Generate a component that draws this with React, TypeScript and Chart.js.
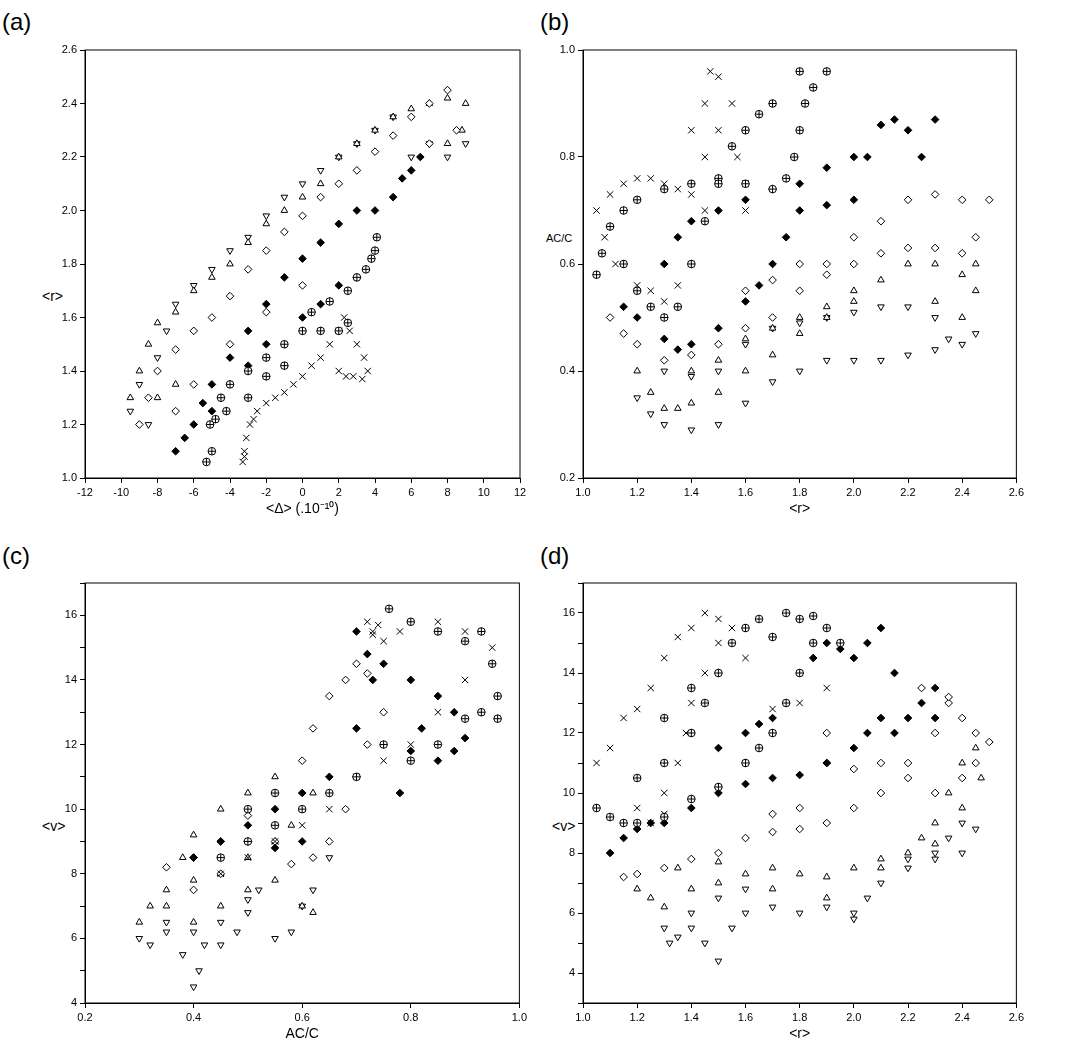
import React, { useEffect, useRef } from "react";
import { Chart, registerables } from "chart.js";
Chart.register(...registerables);

type P = [number, number][];

// ---- Panel (a): <Δ> vs <r>
const aCross: P = [[-3.3,1.06],[-3.2,1.1],[-3.1,1.15],[-2.9,1.2],[-2.5,1.25],[-2,1.28],[-1.5,1.3],[-1,1.32],[-0.5,1.35],[0,1.38],[0.5,1.42],[1,1.45],[1.5,1.5],[2,1.55],[2.3,1.6],[2.6,1.55],[3,1.5],[3.4,1.45],[3.6,1.4],[3.3,1.37],[2.8,1.38],[2.4,1.38],[2,1.4],[-3.2,1.08],[-2.7,1.22]];
const aOplus: P = [[-5.3,1.06],[-5,1.1],[-5.1,1.2],[-4.5,1.3],[-4,1.35],[-3,1.4],[-2,1.45],[-1,1.5],[0,1.55],[1,1.55],[2,1.55],[2.5,1.58],[-4.8,1.22],[-3,1.3],[-2,1.38],[0.5,1.62],[1.5,1.66],[2.5,1.7],[3,1.75],[3.5,1.78],[4,1.85],[4.1,1.9],[3.8,1.82],[-4.2,1.25],[-1,1.42]];
const aFill: P = [[-7,1.1],[-6.5,1.15],[-6,1.2],[-5.5,1.28],[-5,1.35],[-4,1.45],[-3,1.55],[-2,1.65],[-1,1.75],[0,1.82],[1,1.88],[2,1.95],[3,2.0],[4,2.0],[5,2.05],[5.5,2.12],[6,2.15],[6.5,2.2],[-5,1.25],[-4.5,1.3],[-3,1.42],[-2,1.5],[0,1.6],[1,1.65],[2,1.72],[3,1.75]];
const aDiam: P = [[-9,1.2],[-8.5,1.3],[-8,1.4],[-7,1.48],[-6,1.55],[-5,1.6],[-4,1.68],[-3,1.78],[-2,1.85],[-1,1.92],[0,1.98],[1,2.05],[2,2.1],[3,2.15],[4,2.22],[5,2.28],[6,2.35],[7,2.4],[8,2.45],[-7,1.25],[-6,1.35],[-4,1.5],[-2,1.62],[0,1.72],[8.5,2.3],[7,2.25]];
const aTri: P = [[-9.5,1.3],[-9,1.4],[-8.5,1.5],[-8,1.58],[-7,1.62],[-6,1.7],[-5,1.75],[-4,1.8],[-3,1.88],[-2,1.95],[-1,2.0],[0,2.05],[1,2.1],[2,2.2],[3,2.25],[4,2.3],[5,2.35],[6,2.38],[7,2.4],[8,2.42],[9,2.4],[8.8,2.3],[8,2.25],[-8,1.3],[-7,1.35]];
const aTriD: P = [[-9.5,1.25],[-9,1.35],[-8,1.45],[-7.5,1.55],[-7,1.65],[-6,1.72],[-5,1.78],[-4,1.85],[-3,1.9],[-2,1.98],[-1,2.05],[0,2.1],[1,2.15],[2,2.2],[3,2.25],[4,2.3],[5,2.35],[7,2.25],[8,2.2],[9,2.25],[-8.5,1.2],[6,2.2]];

// ---- Panel (b): <r> vs AC/C
const bCross: P = [[1.05,0.7],[1.1,0.73],[1.15,0.75],[1.2,0.76],[1.25,0.76],[1.3,0.75],[1.35,0.74],[1.4,0.73],[1.45,0.8],[1.45,0.9],[1.47,0.96],[1.5,0.95],[1.55,0.9],[1.57,0.8],[1.6,0.75],[1.08,0.65],[1.12,0.6],[1.2,0.56],[1.25,0.55],[1.3,0.53],[1.35,0.56],[1.4,0.6],[1.45,0.7],[1.4,0.85],[1.5,0.85],[1.6,0.7]];
const bOplus: P = [[1.05,0.58],[1.07,0.62],[1.1,0.67],[1.15,0.7],[1.2,0.72],[1.3,0.74],[1.4,0.75],[1.5,0.76],[1.6,0.75],[1.7,0.74],[1.75,0.76],[1.78,0.8],[1.8,0.85],[1.82,0.9],[1.85,0.93],[1.9,0.96],[1.8,0.96],[1.7,0.9],[1.65,0.88],[1.6,0.85],[1.55,0.82],[1.5,0.75],[1.45,0.68],[1.4,0.6],[1.35,0.52],[1.3,0.5],[1.25,0.52],[1.2,0.55],[1.15,0.6]];
const bFill: P = [[1.15,0.52],[1.2,0.5],[1.3,0.46],[1.35,0.44],[1.4,0.45],[1.5,0.48],[1.6,0.53],[1.65,0.56],[1.7,0.6],[1.75,0.65],[1.8,0.7],[1.9,0.71],[2.0,0.72],[2.05,0.8],[2.1,0.86],[2.15,0.87],[2.2,0.85],[2.25,0.8],[2.3,0.87],[1.3,0.6],[1.35,0.65],[1.4,0.68],[1.5,0.7],[1.6,0.72],[1.7,0.74],[1.8,0.75],[1.9,0.78],[2.0,0.8]];
const bDiam: P = [[1.1,0.5],[1.15,0.47],[1.2,0.45],[1.3,0.42],[1.4,0.43],[1.5,0.45],[1.6,0.48],[1.7,0.5],[1.8,0.55],[1.9,0.58],[2.0,0.6],[2.1,0.62],[2.2,0.63],[2.3,0.63],[2.4,0.62],[2.45,0.65],[2.5,0.72],[2.4,0.72],[2.3,0.73],[2.2,0.72],[2.1,0.68],[2.0,0.65],[1.9,0.6],[1.8,0.6],[1.7,0.57],[1.6,0.55]];
const bTri: P = [[1.2,0.4],[1.25,0.36],[1.3,0.33],[1.35,0.33],[1.4,0.34],[1.5,0.36],[1.6,0.4],[1.7,0.43],[1.8,0.47],[1.9,0.5],[2.0,0.53],[2.1,0.57],[2.2,0.6],[2.3,0.6],[2.4,0.58],[2.45,0.55],[2.4,0.5],[1.4,0.4],[1.5,0.42],[1.6,0.46],[1.7,0.48],[1.8,0.5],[1.9,0.52],[2.0,0.55],[2.3,0.53],[2.45,0.6]];
const bTriD: P = [[1.2,0.35],[1.25,0.32],[1.3,0.3],[1.4,0.29],[1.5,0.3],[1.6,0.34],[1.7,0.38],[1.8,0.4],[1.9,0.42],[2.0,0.42],[2.1,0.42],[2.2,0.43],[2.3,0.44],[2.4,0.45],[2.45,0.47],[1.4,0.39],[1.5,0.4],[1.6,0.45],[1.7,0.48],[1.8,0.49],[1.9,0.5],[2.0,0.51],[2.1,0.52],[2.2,0.52],[2.3,0.5],[2.35,0.46],[1.3,0.4]];

// ---- Panel (c): AC/C vs <v>
const cCross: P = [[0.72,15.8],[0.73,15.5],[0.75,15.2],[0.78,15.5],[0.85,15.8],[0.9,15.5],[0.95,15],[0.9,14],[0.85,13],[0.8,12],[0.75,11.5],[0.7,11],[0.65,10],[0.6,9.5],[0.55,9],[0.5,8.5],[0.45,8],[0.74,15.7],[0.73,15.4]];
const cOplus: P = [[0.76,16.2],[0.8,15.8],[0.85,15.5],[0.9,15.2],[0.95,14.5],[0.96,13.5],[0.93,13],[0.9,12.8],[0.85,12],[0.8,11.5],[0.75,12],[0.7,11],[0.65,10.5],[0.6,10],[0.55,9.5],[0.5,9],[0.45,8.5],[0.5,10],[0.55,10.5],[0.96,12.8],[0.93,15.5]];
const cFill: P = [[0.7,15.5],[0.72,14.8],[0.75,14.5],[0.8,14],[0.85,13.5],[0.88,13],[0.9,12.2],[0.85,11.5],[0.8,11.8],[0.78,10.5],[0.7,12.5],[0.65,11],[0.6,10.5],[0.55,10],[0.5,9.5],[0.45,9],[0.4,8.5],[0.55,8.8],[0.6,9],[0.82,12.5],[0.73,14],[0.88,11.8]];
const cDiam: P = [[0.35,8.2],[0.4,8.5],[0.45,9],[0.5,9.8],[0.55,10.5],[0.6,11.5],[0.62,12.5],[0.65,13.5],[0.68,14],[0.7,14.5],[0.72,14.2],[0.75,13],[0.72,12],[0.7,11],[0.68,10],[0.65,9],[0.62,8.5],[0.58,8.3],[0.55,9],[0.5,9],[0.45,8],[0.4,7.5]];
const cTri: P = [[0.3,6.5],[0.32,7],[0.35,7.5],[0.4,7.8],[0.45,8],[0.5,8.5],[0.55,9],[0.58,9.5],[0.6,10],[0.62,10.5],[0.55,11],[0.5,10.5],[0.45,10],[0.4,9.2],[0.38,8.5],[0.35,7],[0.4,6.5],[0.45,7],[0.5,7.5],[0.55,7.8],[0.6,7],[0.62,6.8]];
const cTriD: P = [[0.3,6],[0.32,5.8],[0.35,6.2],[0.38,5.5],[0.4,4.5],[0.41,5],[0.42,5.8],[0.45,6.5],[0.48,6.2],[0.5,6.8],[0.52,7.5],[0.55,6],[0.58,6.2],[0.6,7],[0.62,7.5],[0.65,8.5],[0.4,6.2],[0.35,6.5],[0.45,5.8],[0.5,7.2]];

// ---- Panel (d): <r> vs <v>
const dCross: P = [[1.05,11],[1.1,11.5],[1.15,12.5],[1.2,12.8],[1.25,13.5],[1.3,14.5],[1.35,15.2],[1.4,15.5],[1.45,16],[1.5,15.8],[1.55,15.5],[1.5,15],[1.45,14],[1.4,13],[1.38,12],[1.35,11],[1.3,10],[1.2,9.5],[1.1,9.2],[1.25,9],[1.3,9.3],[1.6,14.5],[1.7,12.8],[1.8,13],[1.9,13.5]];
const dOplus: P = [[1.05,9.5],[1.1,9.2],[1.15,9],[1.2,9],[1.3,9.2],[1.4,9.8],[1.5,10.2],[1.6,11],[1.65,11.5],[1.7,12],[1.75,13],[1.8,14],[1.85,15],[1.9,15.5],[1.85,15.9],[1.75,16],[1.65,15.8],[1.6,15.5],[1.55,15],[1.5,14],[1.45,13],[1.4,12],[1.3,11],[1.2,10.5],[1.3,12.5],[1.4,13.5],[1.7,15.2],[1.8,15.8],[1.95,15]];
const dFill: P = [[1.1,8],[1.15,8.5],[1.2,8.8],[1.25,9],[1.3,9],[1.4,9.5],[1.5,10],[1.6,10.3],[1.7,10.5],[1.8,10.6],[1.9,11],[2.0,11.5],[2.05,12],[2.1,12.5],[2.15,12],[2.2,12.5],[2.25,13],[2.3,12.5],[2.0,14.5],[2.05,15],[2.1,15.5],[1.95,14.8],[1.9,15],[1.85,14.5],[2.15,14],[2.3,13.5],[1.6,12],[1.65,12.3],[1.7,12.5],[1.5,11.5]];
const dDiam: P = [[1.15,7.2],[1.2,7.3],[1.3,7.5],[1.4,7.8],[1.5,8],[1.6,8.5],[1.7,8.7],[1.8,8.8],[1.9,9],[2.0,9.5],[2.1,10],[2.2,11],[2.3,12],[2.35,13],[2.4,12.5],[2.45,12],[2.5,11.7],[2.45,11],[2.4,10.5],[2.3,10],[2.2,10.5],[2.1,11],[2.0,10.8],[1.9,11],[2.25,13.5],[2.35,13.2],[1.9,12],[1.8,9.5],[1.7,9.3]];
const dTri: P = [[1.25,6.5],[1.3,6.2],[1.4,6.8],[1.5,7],[1.6,7.3],[1.7,7.5],[1.8,7.3],[1.9,7.2],[2.0,7.5],[2.1,7.8],[2.2,8],[2.25,8.5],[2.3,9],[2.35,10],[2.4,11],[2.45,11.5],[2.47,10.5],[2.4,9.5],[1.5,7.7],[1.35,7.5],[1.2,6.8],[1.7,6.8],[1.9,6.5],[2.1,7.5],[2.3,8.3]];
const dTriD: P = [[1.3,5.5],[1.32,5],[1.35,5.2],[1.4,5.5],[1.45,5],[1.5,4.4],[1.55,5.5],[1.6,6],[1.7,6.2],[1.8,6],[1.9,6.2],[2.0,6],[2.05,6.5],[2.1,7],[2.2,7.5],[2.3,8],[2.35,8.5],[2.4,9],[2.45,8.8],[2.4,8],[2.3,7.8],[1.5,6.5],[1.6,6.8],[1.4,6],[2.0,5.8],[2.2,7.8]];

const toXY = (p: P) => p.map(([x, y]) => ({ x, y }));

// Dataset 0 is drawn on top in Chart.js
function datasets(cr: P, op: P, fi: P, di: P, tr: P, td: P) {
  const base = { borderColor: "#000", borderWidth: 1, pointRadius: 3.8 };
  return [
    { ...base, data: toXY(op), pointStyle: "cross", backgroundColor: "#fff" },
    { ...base, data: toXY(op), pointStyle: "circle", backgroundColor: "#fff" },
    { ...base, data: toXY(cr), pointStyle: "crossRot", pointRadius: 4.5, backgroundColor: "#fff" },
    { ...base, data: toXY(fi), pointStyle: "rectRot", backgroundColor: "#000" },
    { ...base, data: toXY(di), pointStyle: "rectRot", backgroundColor: "#fff" },
    { ...base, data: toXY(tr), pointStyle: "triangle", backgroundColor: "#fff" },
    { ...base, data: toXY(td), pointStyle: "triangle", pointRotation: 180, backgroundColor: "#fff" },
  ];
}

const frame = {
  id: "frame",
  afterDraw(c: any) {
    const { ctx, chartArea: a } = c;
    ctx.save();
    ctx.strokeStyle = "#000";
    ctx.lineWidth = 1;
    ctx.strokeRect(a.left, a.top, a.right - a.left, a.bottom - a.top);
    ctx.restore();
  },
};

interface Cfg {
  sets: any[]; xmin: number; xmax: number; xstep: number; ymin: number; ymax: number; ystep: number;
  xt: string; yEven?: boolean;
}

function Panel({ cfg, left, top, w, h }: { cfg: Cfg; left: number; top: number; w: number; h: number }) {
  const ref = useRef<HTMLCanvasElement>(null);
  useEffect(() => {
    const tickFont = { family: "Liberation Sans, Arial", size: 11 };
    const grid = { display: true, drawOnChartArea: false, drawTicks: true, tickLength: 5, color: "#000" };
    const chart = new Chart(ref.current!, {
      type: "scatter",
      data: { datasets: cfg.sets },
      plugins: [frame],
      options: {
        animation: false, responsive: false,
        layout: { padding: { top: 10, right: 10 } },
        plugins: { legend: { display: false }, tooltip: { enabled: false } },
        scales: {
          x: {
            min: cfg.xmin, max: cfg.xmax,
            ticks: { stepSize: cfg.xstep, color: "#000", font: tickFont, maxRotation: 0 },
            grid, border: { color: "#000" },
            title: { display: true, text: cfg.xt, color: "#000", font: { family: "Liberation Sans, Arial", size: 14 }, padding: 0 },
            afterFit: (s: any) => { s.height = 40; },
          },
          y: {
            min: cfg.ymin, max: cfg.ymax,
            ticks: {
              stepSize: cfg.ystep, color: "#000", font: tickFont,
              callback: (v: any) => (cfg.yEven && Number(v) % 2 !== 0 ? "" : cfg.ystep < 1 ? Number(v).toFixed(1) : String(v)),
            },
            grid, border: { color: "#000" },
            afterFit: (s: any) => { s.width = 45; },
          },
        },
      } as any,
    });
    return () => chart.destroy();
  }, []);
  return <canvas ref={ref} width={w} height={h} style={{ position: "absolute", left, top, width: w, height: h }} />;
}

const cfgA: Cfg = { sets: datasets(aCross, aOplus, aFill, aDiam, aTri, aTriD), xmin: -12, xmax: 12, xstep: 2, ymin: 1, ymax: 2.6, ystep: 0.2, xt: "<Δ> (.10⁻¹⁰)" };
const cfgB: Cfg = { sets: datasets(bCross, bOplus, bFill, bDiam, bTri, bTriD), xmin: 1, xmax: 2.6, xstep: 0.2, ymin: 0.2, ymax: 1.0, ystep: 0.2, xt: "<r>" };
const cfgC: Cfg = { sets: datasets(cCross, cOplus, cFill, cDiam, cTri, cTriD), xmin: 0.2, xmax: 1.0, xstep: 0.2, ymin: 4, ymax: 17, ystep: 1, yEven: true, xt: "AC/C" };
const cfgD: Cfg = { sets: datasets(dCross, dOplus, dFill, dDiam, dTri, dTriD), xmin: 1, xmax: 2.6, xstep: 0.2, ymin: 3, ymax: 17, ystep: 1, yEven: true, xt: "<r>" };

const lab: React.CSSProperties = { position: "absolute", fontFamily: "Liberation Sans, Arial", fontSize: 24, color: "#000" };
const yl: React.CSSProperties = { position: "absolute", fontFamily: "Liberation Sans, Arial", fontSize: 14, color: "#000" };

export default function App() {
  return (
    <div style={{ position: "absolute", left: 0, top: 0, width: 1066, height: 1054, background: "#fff" }}>
      <div style={{ ...lab, left: 2, top: 8 }}>(a)</div>
      <div style={{ ...lab, left: 540, top: 8 }}>(b)</div>
      <div style={{ ...lab, left: 2, top: 542 }}>(c)</div>
      <div style={{ ...lab, left: 540, top: 542 }}>(d)</div>
      <div style={{ ...yl, left: 42, top: 288 }}>&lt;r&gt;</div>
      <div style={{ ...yl, left: 546, top: 232, fontSize: 11 }}>AC/C</div>
      <div style={{ ...yl, left: 42, top: 818 }}>&lt;v&gt;</div>
      <div style={{ ...yl, left: 552, top: 818 }}>&lt;v&gt;</div>
      <Panel cfg={cfgA} left={40} top={40} w={490} h={478} />
      <Panel cfg={cfgB} left={538} top={40} w={489} h={478} />
      <Panel cfg={cfgC} left={40} top={573} w={490} h={470} />
      <Panel cfg={cfgD} left={538} top={573} w={489} h={470} />
    </div>
  );
}
